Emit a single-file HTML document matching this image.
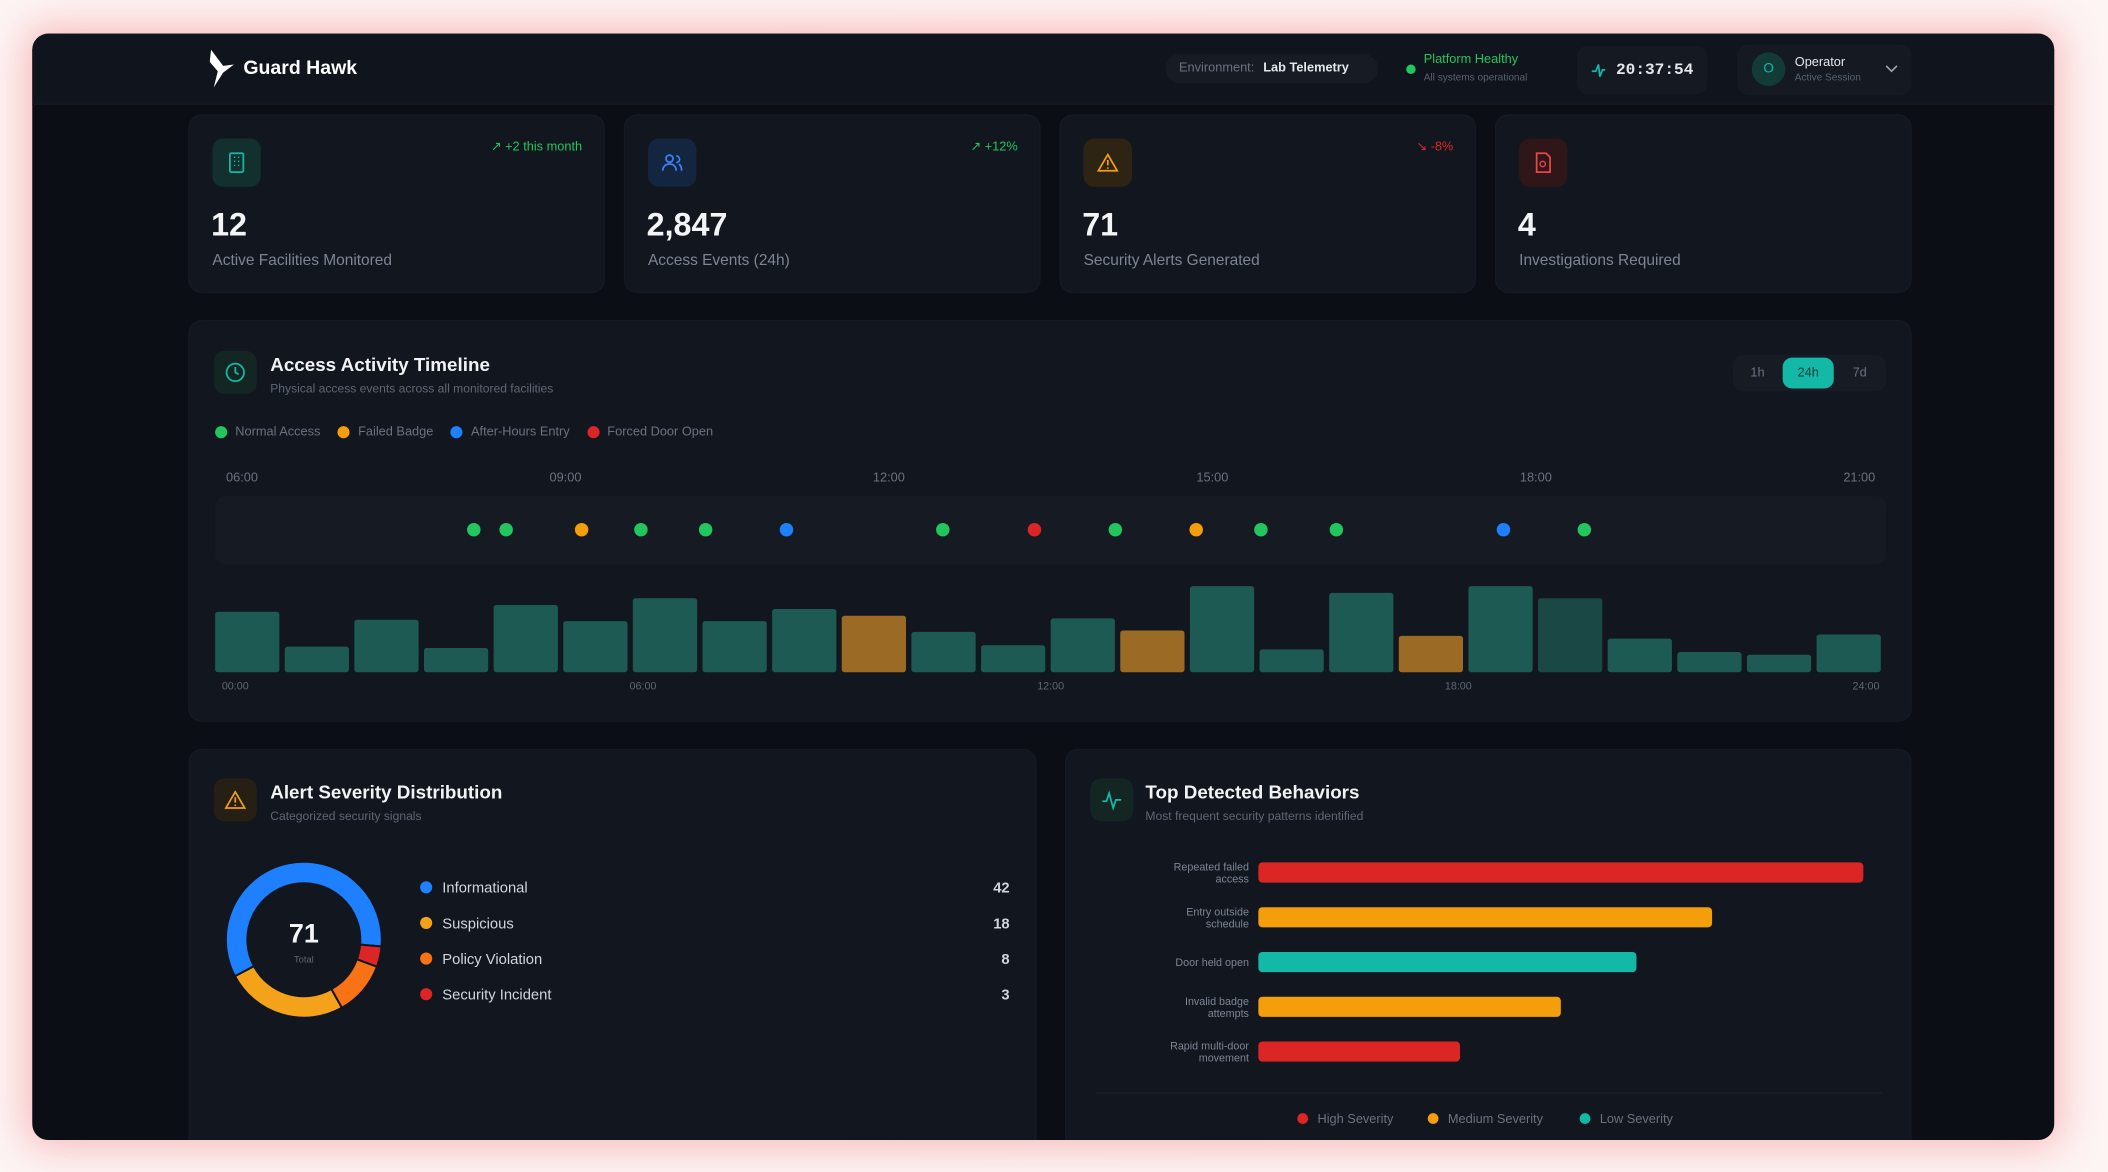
<!DOCTYPE html>
<html><head><meta charset="utf-8">
<style>
*{box-sizing:border-box;margin:0;padding:0}
html,body{width:2108px;height:1172px;overflow:hidden;background:#fdf3f3;font-family:"Liberation Sans",sans-serif}
#stage{position:absolute;left:0;top:0;width:1568px;height:872px;transform:scale(1.34439);transform-origin:0 0;background:radial-gradient(ellipse at center,#fbe3e3 0%,#fdf4f4 70%)}
.abs{position:absolute}
#win{left:24px;top:25px;width:1504px;height:823px;border-radius:12px;background:#0b0e14;box-shadow:0 0 28px 6px rgba(240,90,90,.35);overflow:hidden}
#hdr{left:0;top:0;width:1504px;height:53px;background:#10141c;border-bottom:1px solid #161b24}
.card{background:#12161f;border-radius:10px;border:1px solid #161a23}
.ibox{width:36px;height:36px;border-radius:8px;display:flex;align-items:center;justify-content:center}
.num{font-size:24px;font-weight:bold;color:#f3f4f6}
.lbl{font-size:11.5px;color:#7d8594}
.trend{font-size:9.5px}
.ttl{font-size:14px;font-weight:bold;color:#f1f3f5}
.sub{font-size:9px;color:#5f6775}
.gray{color:#6b7280}
</style></head>
<body>
<div id="stage">
<div id="win" class="abs">
 <div id="hdr" class="abs"></div>
</div>

<svg class="abs" style="left:154px;top:36px" width="24" height="30" viewBox="0 0 24 30">
 <path d="M3 1 L12 13 L20 12 L12 18 L5 29 L8 17 L2 10 Z" fill="#fff"/>
</svg>
<div class="abs" style="left:181px;top:43px;font-size:14.5px;font-weight:bold;color:#fff">Guard Hawk</div>

<div class="abs" style="left:867px;top:40px;width:158px;height:22px;border-radius:11px;background:#161b24;font-size:9.5px;line-height:22px;padding-left:10px"><span class="gray">Environment:</span> <b style="color:#e5e7eb;margin-left:4px">Lab Telemetry</b></div>

<div class="abs" style="left:1046px;top:48px;width:7px;height:7px;border-radius:50%;background:#22c55e"></div>
<div class="abs" style="left:1059px;top:39px;font-size:9.5px;color:#22c55e">Platform Healthy</div>
<div class="abs" style="left:1059px;top:53px;font-size:7.5px;color:#596170">All systems operational</div>

<div class="abs" style="left:1173px;top:34px;width:97px;height:36px;border-radius:8px;background:#141922">
 <svg class="abs" style="left:10px;top:12px" width="12" height="12" viewBox="0 0 12 12"><path d="M1 7 L4 7 L6 2 L7 11 L9 6 L11 6" stroke="#14b8a6" stroke-width="1.3" fill="none"/></svg>
 <div class="abs" style="left:29px;top:11px;font-family:'Liberation Mono',monospace;font-weight:bold;font-size:12px;color:#e5e7eb">20:37:54</div>
</div>

<div class="abs" style="left:1292px;top:33px;width:130px;height:38px;border-radius:9px;background:#141922">
 <div class="abs" style="left:11px;top:6px;width:25px;height:25px;border-radius:50%;background:#123a37;color:#14b8a6;font-size:10px;text-align:center;line-height:25px">O</div>
 <div class="abs" style="left:43px;top:8px;font-size:9.5px;color:#e5e7eb">Operator</div>
 <div class="abs" style="left:43px;top:20px;font-size:7.5px;color:#596170">Active Session</div>
 <svg class="abs" style="left:110px;top:14px" width="10" height="8"><path d="M1 2 L5 6 L9 2" stroke="#9ca3af" stroke-width="1.2" fill="none"/></svg>
</div>

<div class="abs card" style="left:140px;top:85px;width:310px;height:133px">
 <div class="abs ibox" style="left:17px;top:17px;background:#12302e"><svg width="14" height="16"><rect x="2" y="1" width="10" height="14" rx="1" stroke="#14b8a6" fill="none" stroke-width="1.3"/><path d="M5 4h1M8 4h1M5 7h1M8 7h1M5 10h1M8 10h1" stroke="#14b8a6"/></svg></div>
 <div class="abs trend" style="right:16px;top:18px;color:#22c55e">↗ +2 this month</div>
 <div class="abs num" style="left:16px;top:68px">12</div>
 <div class="abs lbl" style="left:17px;top:102px">Active Facilities Monitored</div>
</div>
<div class="abs card" style="left:464px;top:85px;width:310px;height:133px">
 <div class="abs ibox" style="left:17px;top:17px;background:#13253f"><svg width="16" height="14"><circle cx="6" cy="4" r="2.6" stroke="#3b82f6" fill="none" stroke-width="1.3"/><path d="M1 13c0-3 2-5 5-5s5 2 5 5M11 2a2.5 2.5 0 0 1 0 5M13 8c1.5 1 2 3 2 5" stroke="#3b82f6" fill="none" stroke-width="1.3"/></svg></div>
 <div class="abs trend" style="right:16px;top:18px;color:#22c55e">↗ +12%</div>
 <div class="abs num" style="left:16px;top:68px">2,847</div>
 <div class="abs lbl" style="left:17px;top:102px">Access Events (24h)</div>
</div>
<div class="abs card" style="left:788px;top:85px;width:310px;height:133px">
 <div class="abs ibox" style="left:17px;top:17px;background:#2d2414"><svg width="16" height="14"><path d="M8 1 L15 13 L1 13 Z" stroke="#f59e0b" fill="none" stroke-width="1.3"/><path d="M8 5v4M8 10.5v1" stroke="#f59e0b" stroke-width="1.3"/></svg></div>
 <div class="abs trend" style="right:16px;top:18px;color:#dc2626">↘ -8%</div>
 <div class="abs num" style="left:16px;top:68px">71</div>
 <div class="abs lbl" style="left:17px;top:102px">Security Alerts Generated</div>
</div>
<div class="abs card" style="left:1112px;top:85px;width:310px;height:133px">
 <div class="abs ibox" style="left:17px;top:17px;background:#2e1619"><svg width="14" height="16"><path d="M2 1h7l3 3v11H2Z" stroke="#ef4444" fill="none" stroke-width="1.3"/><circle cx="6.5" cy="9" r="2" stroke="#ef4444" fill="none"/></svg></div>
 <div class="abs num" style="left:16px;top:68px">4</div>
 <div class="abs lbl" style="left:17px;top:102px">Investigations Required</div>
</div>

<div class="abs card" style="left:140px;top:238px;width:1282px;height:299px"></div>
<div class="abs ibox" style="left:159px;top:261px;width:32px;height:32px;background:#132623"><svg width="16" height="16"><circle cx="8" cy="8" r="6.5" stroke="#14b8a6" fill="none" stroke-width="1.3"/><path d="M8 4v4l2.5 1.5" stroke="#14b8a6" fill="none" stroke-width="1.3"/></svg></div>
<div class="abs ttl" style="left:201px;top:263px">Access Activity Timeline</div>
<div class="abs sub" style="left:201px;top:284px">Physical access events across all monitored facilities</div>
<div class="abs" style="left:1289px;top:264px;width:114px;height:27px;border-radius:8px;background:#161b24;font-size:9.5px">
 <div class="abs" style="left:13px;top:8px;color:#6b7280">1h</div>
 <div class="abs" style="left:37px;top:2px;width:38px;height:23px;border-radius:7px;background:#14b8a6;color:#0d3d38;text-align:center;line-height:23px">24h</div>
 <div class="abs" style="left:89px;top:8px;color:#6b7280">7d</div>
</div>
<div class="abs" style="left:160px;top:316px;font-size:9.5px;color:#6b7280;display:flex;gap:0">
 <span style="display:inline-flex;align-items:center;margin-right:13px"><i style="width:9px;height:9px;border-radius:50%;background:#22c55e;margin-right:6px"></i>Normal Access</span>
 <span style="display:inline-flex;align-items:center;margin-right:13px"><i style="width:9px;height:9px;border-radius:50%;background:#f59e0b;margin-right:6px"></i>Failed Badge</span>
 <span style="display:inline-flex;align-items:center;margin-right:13px"><i style="width:9px;height:9px;border-radius:50%;background:#1e80ff;margin-right:6px"></i>After-Hours Entry</span>
 <span style="display:inline-flex;align-items:center"><i style="width:9px;height:9px;border-radius:50%;background:#dc2626;margin-right:6px"></i>Forced Door Open</span>
</div>
<svg id="tl" class="abs" style="left:0;top:0" width="1568" height="872"></svg>

<div class="abs card" style="left:140px;top:557px;width:631px;height:291px;border-radius:10px 10px 0 0;border-bottom:none"></div>
<div class="abs ibox" style="left:159px;top:579px;width:32px;height:32px;background:#261f14"><svg width="16" height="14"><path d="M8 1 L15 13 L1 13 Z" stroke="#f59e0b" fill="none" stroke-width="1.3"/><path d="M8 5v4M8 10.5v1" stroke="#f59e0b" stroke-width="1.3"/></svg></div>
<div class="abs ttl" style="left:201px;top:581px">Alert Severity Distribution</div>
<div class="abs sub" style="left:201px;top:602px">Categorized security signals</div>
<svg id="donut" class="abs" style="left:0;top:0" width="1568" height="872"></svg>

<div class="abs card" style="left:792px;top:557px;width:630px;height:291px;border-radius:10px 10px 0 0;border-bottom:none"></div>
<div class="abs ibox" style="left:811px;top:579px;width:32px;height:32px;background:#132623"><svg width="16" height="16"><path d="M1 9 L4 9 L6 3 L9 14 L11 8 L15 8" stroke="#14b8a6" stroke-width="1.3" fill="none"/></svg></div>
<div class="abs ttl" style="left:852px;top:581px">Top Detected Behaviors</div>
<div class="abs sub" style="left:852px;top:602px">Most frequent security patterns identified</div>
<svg id="beh" class="abs" style="left:0;top:0" width="1568" height="872"></svg>
</div>

<script>
const hourTickLabels = ['06:00','09:00','12:00','15:00','18:00','21:00'];
const hourTickValues = [6,9,12,15,18,21];
const eventHours = [8.15,8.45,9.15,9.7,10.3,11.05,12.5,13.35,14.1,14.85,15.45,16.15,17.7,18.45];
const eventTypes = ['normal','normal','failed','normal','normal','after','normal','forced','normal','failed','normal','normal','after','normal'];
const barValues = [45,19,39,18,50,38,55,38,47,42,30,20,40,31,64,17,59,27,64,55,25,15,13,28];
const barTypes = ['n','n','n','n','n','n','n','n','n','f','n','n','n','f','n','n','n','f','n','d','n','n','n','n'];
const barTickLabels = ['00:00','06:00','12:00','18:00','24:00'];
const barTickHours = [0,6,12,18,24];
const sevLabels = ['Informational','Suspicious','Policy Violation','Security Incident'];
const sevValues = [42,18,8,3];
const sevColors = ['#1e80ff','#f5a21b','#f97316','#dc2626'];
const behLabels = [['Repeated failed','access'],['Entry outside','schedule'],['Door held open'],['Invalid badge','attempts'],['Rapid multi-door','movement']];
const behValues = [24,18,15,12,8];
const behSeverity = ['high','medium','low','medium','high'];
const sevLegend = ['High Severity','Medium Severity','Low Severity'];

const NS='http://www.w3.org/2000/svg';
function mk(parent,tag,attrs,txt){const e=document.createElementNS(NS,tag);for(const k in attrs)e.setAttribute(k,attrs[k]);if(txt!==undefined)e.textContent=txt;parent.appendChild(e);return e;}

const tl=document.getElementById('tl');
const xEvent=h=>180+(h-6)*80.2;
const evColor={normal:'#22c55e',failed:'#f59e0b',after:'#1e80ff',forced:'#dc2626'};
hourTickLabels.forEach((t,i)=>{
  const e=mk(tl,'text',{x:xEvent(hourTickValues[i]),y:358,'text-anchor':'middle','font-size':9.5,fill:'#6b7280','font-family':'Liberation Sans'},t);
  
  
});
const strip=mk(tl,'rect',{x:160,y:369,width:1243,height:51,rx:8,fill:'#161b23'});


eventHours.forEach((h,i)=>{
  const c=mk(tl,'circle',{cx:xEvent(h),cy:394,r:5,fill:evColor[eventTypes[i]]});
  
  
});
const bx0=160,bx1=1403,base=500,bH=70,bMax=70;
const slot=(bx1-bx0)/barValues.length;
const yBar=v=>base-v/bMax*bH;
const barCol={n:'#1d5a54',f:'#9b6a24',d:'#1a4845'};
barValues.forEach((v,i)=>{
  const r=mk(tl,'rect',{x:bx0+i*slot,y:yBar(v),width:slot-4,height:base-yBar(v),rx:2,fill:barCol[barTypes[i]]});
  
  
});
const xBarTick=h=>175+h/24*1213;
barTickLabels.forEach((t,i)=>{
  const e=mk(tl,'text',{x:xBarTick(barTickHours[i]),y:513,'text-anchor':'middle','font-size':8,fill:'#5f6775','font-family':'Liberation Sans'},t);
  
  
});

const dn=document.getElementById('donut');
const cx=226,cy=699,R=58,r0=42;
const total=sevValues.reduce((a,b)=>a+b,0);
function pt(deg,rad){const a=(deg-90)*Math.PI/180;return [cx+rad*Math.cos(a),cy+rad*Math.sin(a)];}
let ang=95;
sevValues.forEach((v,i)=>{
  const sweep=v/total*360;const a0=ang,a1=ang-sweep;
  const large=sweep>180?1:0;
  const p0=pt(a0,R),p1=pt(a1,R),q1=pt(a1,r0),q0=pt(a0,r0);
  const d=`M${p0[0]},${p0[1]} A${R},${R} 0 ${large} 0 ${p1[0]},${p1[1]} L${q1[0]},${q1[1]} A${r0},${r0} 0 ${large} 1 ${q0[0]},${q0[1]} Z`;
  const s=mk(dn,'path',{d:d,fill:sevColors[i],stroke:'#12161f','stroke-width':1.5});
  
  
  ang=a1;
});
const tot=mk(dn,'text',{x:cx,y:701,'text-anchor':'middle','font-size':20,'font-weight':'bold',fill:'#f3f4f6','font-family':'Liberation Sans'},String(total));


const tl2=mk(dn,'text',{x:cx,y:716,'text-anchor':'middle','font-size':7,fill:'#5f6775','font-family':'Liberation Sans'},'Total');


sevLabels.forEach((l,i)=>{
  const y=660+i*26.5;
  const g=mk(dn,'g',{});
  
  
  mk(g,'circle',{cx:317,cy:y,r:4.5,fill:sevColors[i]});
  mk(g,'text',{x:329,y:y+4,'font-size':11,fill:'#d1d5db','font-family':'Liberation Sans'},l);
  mk(g,'text',{x:751,y:y+4,'text-anchor':'end','font-size':11,'font-weight':'bold',fill:'#d1d5db','font-family':'Liberation Sans'},String(sevValues[i]));
});

const bh=document.getElementById('beh');
const bx=936,bW=450,bvMax=24;
const xB=v=>v/bvMax*bW;
const behCol={high:'#dc2626',medium:'#f59e0b',low:'#14b8a6'};
behValues.forEach((v,i)=>{
  const yc=649+i*33.3;
  const r=mk(bh,'rect',{x:bx,y:yc-7.5,width:xB(v),height:15,rx:3,fill:behCol[behSeverity[i]]});
  
  
  const lines=behLabels[i];
  lines.forEach((ln,j)=>{
    const yy=lines.length===1?yc+3:yc-1.5+j*9;
    const t=mk(bh,'text',{x:929,y:yy,'text-anchor':'end','font-size':8,fill:'#7d8594','font-family':'Liberation Sans'},ln);
    
    
  });
});
const sep=mk(bh,'line',{x1:815,y1:813,x2:1400,y2:813,stroke:'#1c212b','stroke-width':1});


const legX=[969,1066,1179],legC=['#dc2626','#f59e0b','#14b8a6'];
sevLegend.forEach((l,i)=>{
  const g=mk(bh,'g',{});
  
  
  mk(g,'circle',{cx:legX[i],cy:832,r:4,fill:legC[i]});
  mk(g,'text',{x:legX[i]+11,y:835.5,'font-size':9.5,fill:'#6b7280','font-family':'Liberation Sans'},l);
});
</script>
</body></html>
